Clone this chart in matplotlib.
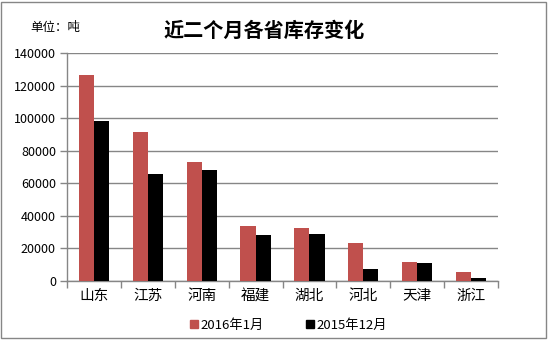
import numpy as np
import matplotlib.pyplot as plt
from matplotlib.patches import Rectangle
from matplotlib.lines import Line2D

plt.rcParams['font.family'] = ['Noto Sans CJK SC', 'DejaVu Sans']

provinces = ['山东', '江苏', '河南', '福建', '湖北', '河北', '天津', '浙江']
jan_2016 = [126200, 91300, 72900, 33700, 32600, 23300, 11600, 5500]
dec_2015 = [98000, 65500, 68000, 28200, 28800, 7300, 11000, 1800]
series_names = ['2016年1月', '2015年12月']
yticks = [0, 20000, 40000, 60000, 80000, 100000, 120000, 140000]

red = '#C0504D'
grey = '#868686'

fig = plt.figure(figsize=(5.51, 3.43), dpi=100)
ax = fig.add_axes([67 / 551, 62 / 343, 431 / 551, 228 / 343])

x = np.arange(len(provinces))
w = 0.28
ax.bar(x - w / 2, jan_2016, w, color=red, zorder=3)
ax.bar(x + w / 2, dec_2015, w, color='black', zorder=3)

ax.set_xlim(-0.5, len(provinces) - 0.5)
ax.set_ylim(0, 140000)
ax.set_yticks(yticks)
ax.set_yticklabels([str(v) for v in yticks], fontsize=9)
ax.yaxis.grid(True, color=grey, linewidth=1, zorder=0)

# category labels centred, tick marks between categories
ax.set_xticks(x)
ax.set_xticklabels(provinces, fontsize=10.5)
ax.tick_params(axis='x', length=0, pad=6)
ax.set_xticks(np.arange(-0.5, len(provinces)), minor=True)
ax.tick_params(axis='x', which='minor', length=5, color=grey, width=1)
ax.tick_params(axis='y', length=5, color=grey, width=1, pad=3)

for side in ['top', 'right']:
    ax.spines[side].set_visible(False)
for side in ['left', 'bottom']:
    ax.spines[side].set_color(grey)
    ax.spines[side].set_linewidth(1)

fig.text(264 / 551, 1 - 30 / 343, '近二个月各省库存变化', ha='center', va='center',
         fontsize=14.5, fontweight='bold')
fig.text(30 / 551, 1 - 28 / 343, '单位：吨', ha='left', va='center', fontsize=9)

handles = [Line2D([], [], marker='s', linestyle='none', color=red, markersize=5.5),
           Line2D([], [], marker='s', linestyle='none', color='black', markersize=5.5)]
fig.legend(handles, series_names, loc='center', bbox_to_anchor=(287 / 551, 1 - 325 / 343),
           ncol=2, frameon=False, fontsize=9.5, handletextpad=0.0, columnspacing=3.0,
           handlelength=1.0)

fig.patches.append(Rectangle((1 / 551, 5 / 343), 545 / 551, 336 / 343, transform=fig.transFigure,
                             fill=False, edgecolor=grey, linewidth=1))

fig.savefig('out.png', dpi=100)
